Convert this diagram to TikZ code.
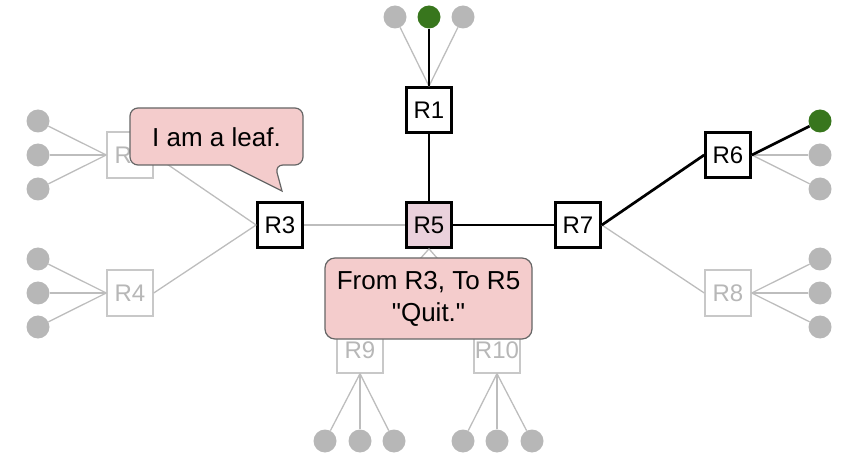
\documentclass[tikz,border=0pt]{standalone}
\usepackage{fontspec}
\setmainfont{Liberation Sans}[Ligatures=TeXOff]
\definecolor{leafgray}{HTML}{B7B7B7}
\definecolor{linegray}{HTML}{BDBDBD}
\definecolor{gbord}{HTML}{C8C8C8}
\definecolor{gtext}{HTML}{B7B7B7}
\definecolor{dkgreen}{HTML}{38761D}
\definecolor{calfill}{HTML}{F4CCCC}
\definecolor{calbord}{HTML}{666666}
\definecolor{rfive}{HTML}{EAD1DC}
\begin{document}
\begin{tikzpicture}[x=1pt,y=-1pt,
  rbox/.style={draw=black, line width=2.7pt, fill=white, minimum size=45pt, inner sep=0pt, font=\fontsize{24}{28}\selectfont},
  gbox/.style={draw=gbord, line width=1.4pt, fill=white, minimum size=46pt, inner sep=0pt, text=gtext, font=\fontsize{24}{28}\selectfont},
  leaf/.style={circle, fill=leafgray, minimum size=23pt, inner sep=0pt},
  gleaf/.style={circle, fill=dkgreen, minimum size=23pt, inner sep=0pt},
  gline/.style={draw=linegray, line width=1.3pt},
  bline/.style={draw=black, line width=2.7pt},
  callout/.style={draw=calbord, fill=calfill, line width=1.2pt},
  caltext/.style={font=\fontsize{26}{32}\selectfont, align=center}
]
\useasboundingbox (0,0) rectangle (852,465);
% routers
\node[rbox] (R1) at (429,110) {R1};
\node[rbox, fill=rfive] (R5) at (429,225) {R5};
\node[rbox] (R3) at (280,225) {R3};
\node[rbox] (R7) at (578,225) {R7};
\node[rbox] (R6) at (728,155) {R6};
\node[gbox] (R2) at (130,155) {R2};
\node[gbox] (R4) at (130,293) {R4};
\node[gbox] (R8) at (728,293) {R8};
\node[gbox] (R9) at (360,350) {R9};
\node[gbox] (R10) at (497,350) {R10};
% leaves
\node[leaf] (t1) at (395,17) {};
\node[gleaf] (t2) at (429,17) {};
\node[leaf] (t3) at (463,17) {};
\node[leaf] (a1) at (38,121) {};
\node[leaf] (a2) at (38,155) {};
\node[leaf] (a3) at (38,189) {};
\node[leaf] (b1) at (38,259) {};
\node[leaf] (b2) at (38,293) {};
\node[leaf] (b3) at (38,327) {};
\node[gleaf] (c1) at (820,121) {};
\node[leaf] (c2) at (820,155) {};
\node[leaf] (c3) at (820,189) {};
\node[leaf] (d1) at (820,259) {};
\node[leaf] (d2) at (820,293) {};
\node[leaf] (d3) at (820,327) {};
\node[leaf] (e1) at (325,441) {};
\node[leaf] (e2) at (360,441) {};
\node[leaf] (e3) at (394,441) {};
\node[leaf] (f1) at (463,441) {};
\node[leaf] (f2) at (497,441) {};
\node[leaf] (f3) at (532,441) {};
% gray links
\draw[gline] (t1) -- (R1.north);
\draw[gline] (t3) -- (R1.north);
\foreach \l in {a1,a2,a3} \draw[gline] (\l) -- (R2.west);
\foreach \l in {b1,b2,b3} \draw[gline] (\l) -- (R4.west);
\foreach \l in {c2,c3} \draw[gline] (\l) -- (R6.east);
\foreach \l in {d1,d2,d3} \draw[gline] (\l) -- (R8.east);
\foreach \l in {e1,e2,e3} \draw[gline] (\l) -- (R9.south);
\foreach \l in {f1,f2,f3} \draw[gline] (\l) -- (R10.south);
\draw[gline] (R3.west) -- (R2.east);
\draw[gline] (R3.west) -- (R4.east);
\draw[gline] (R3.east) -- (R5.west);
\draw[gline] (R7.east) -- (R8.west);
\draw[gline] (R5.south) -- (R9.north);
\draw[gline] (R5.south) -- (R10.north);
% black links
\draw[bline] (t2) -- (R1.north);
\draw[bline] (R1.south) -- (R5.north);
\draw[bline] (R5.east) -- (R7.west);
\draw[bline] (R7.east) -- (R6.west);
\draw[bline] (R6.east) -- (c1);
% callouts
\draw[callout] (130,136) [rounded corners=8pt] |- (303,108) |- (275,165) [sharp corners] -- (282,191) -- (230,165) [rounded corners=8pt] -| (130,136) -- cycle;
\node[caltext] (leafnote) at (216.5,137) {I am a leaf.};
\node[callout, caltext, rounded corners=10pt, minimum width=207pt, minimum height=81pt, inner sep=0pt] (quitnote) at (428.5,298.5) {From R3, To R5\\"Quit."};
\end{tikzpicture}
\end{document}
